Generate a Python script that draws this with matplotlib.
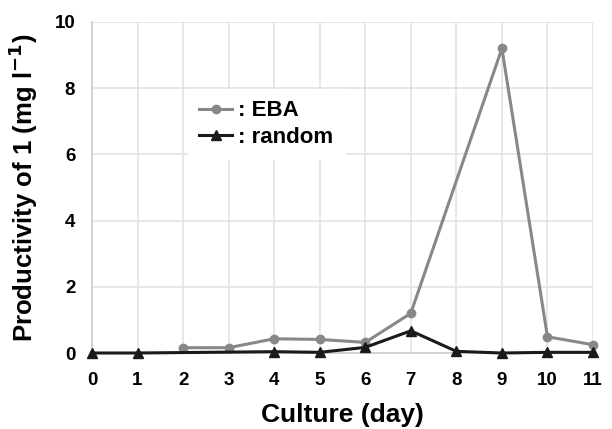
import matplotlib
matplotlib.use("Agg")
import matplotlib.pyplot as plt

plt.rcParams['font.family'] = ['Liberation Sans', 'DejaVu Sans']
plt.rcParams['font.weight'] = 'bold'

eba_days = [2, 3, 4, 5, 6, 7, 9, 10, 11]
eba_vals = [0.16, 0.16, 0.43, 0.41, 0.32, 1.2, 9.2, 0.49, 0.25]
rand_days = [0, 1, 4, 5, 6, 7, 8, 9, 10, 11]
rand_vals = [0.0, 0.0, 0.04, 0.02, 0.17, 0.67, 0.05, 0.0, 0.02, 0.02]
xticks = list(range(0, 12))
yticks = [0, 2, 4, 6, 8, 10]

fig = plt.figure(figsize=(6.12, 4.29), dpi=100)
ax = fig.add_axes([92/612, 1-353/429, (593-92)/612, (353-22)/429])

ax.plot(eba_days, eba_vals, color='#888888', lw=2.2, marker='o', ms=6, label=': EBA',
        zorder=3, clip_on=False)
ax.plot(rand_days, rand_vals, color='#1a1a1a', lw=2.2, marker='^', ms=7, label=': random',
        zorder=4, clip_on=False)

ax.set_xlim(0, 11)
ax.set_ylim(0, 10)
ax.set_xticks(xticks)
ax.set_yticks(yticks)
ax.grid(True, color='#e3e3e3', lw=1.2)
ax.set_axisbelow(True)
for s in ['top', 'right']:
    ax.spines[s].set_visible(False)
for s in ['left', 'bottom']:
    ax.spines[s].set_color('#cccccc')
    ax.spines[s].set_linewidth(1.2)
ax.tick_params(axis='x', length=0, labelsize=13.5, pad=13.5)
ax.tick_params(axis='y', length=0, labelsize=13.5, pad=12)
for lab in ax.get_xticklabels() + ax.get_yticklabels():
    lab.set_fontweight('bold')
ax.set_xlabel('Culture (day)', fontsize=19, fontweight='bold', labelpad=10)
ax.set_ylabel('Productivity of 1 (mg l$^{\\mathbf{-1}}$)', fontsize=18.5, fontweight='bold')
ax.yaxis.set_label_coords(-(92 - 40) / 501, 0.5)

leg = ax.legend(loc='upper left', bbox_to_anchor=(0.17, 0.83), frameon=True, fancybox=False,
                edgecolor='white', framealpha=1, fontsize=16, handlelength=1.45, handletextpad=0.3,
                borderpad=0.5, labelspacing=0.25)
for t in leg.get_texts():
    t.set_fontweight('bold')

fig.savefig('out.png', dpi=100)
